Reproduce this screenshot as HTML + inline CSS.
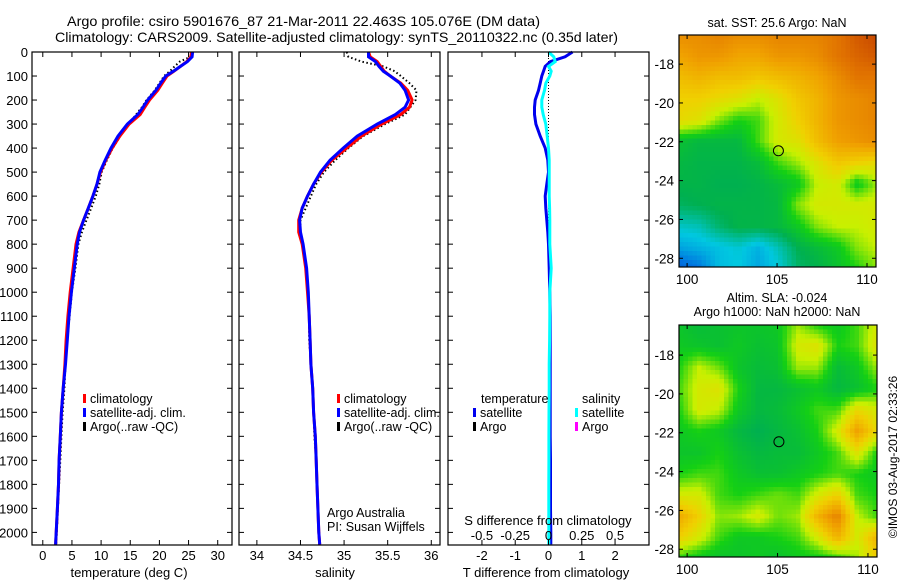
<!DOCTYPE html>
<html><head><meta charset="utf-8">
<style>
html,body{margin:0;padding:0;background:#fff;}
svg{display:block;font-family:"Liberation Sans",sans-serif;font-size:12px;}
</style></head>
<body>
<svg id="chart" width="900" height="580" viewBox="0 0 900 580" xmlns="http://www.w3.org/2000/svg">
<rect width="900" height="580" fill="#fff"/>
<text x="67" y="26" font-size="14" textLength="473" lengthAdjust="spacingAndGlyphs">Argo profile: csiro 5901676_87 21-Mar-2011 22.463S 105.076E (DM data)</text>
<text x="55" y="42" font-size="14" textLength="563" lengthAdjust="spacingAndGlyphs">Climatology: CARS2009. Satellite-adjusted climatology: synTS_20110322.nc (0.35d later)</text>
<text x="777" y="27" text-anchor="middle" font-size="12.5">sat. SST: 25.6 Argo: NaN</text>
<text x="777" y="302" text-anchor="middle" font-size="12.5">Altim. SLA: -0.024</text>
<text x="777" y="316" text-anchor="middle" font-size="12.5">Argo h1000: NaN h2000: NaN</text>
<text transform="translate(897,457) rotate(-90)" text-anchor="middle" font-size="12">©IMOS 03-Aug-2017 02:33:26</text>
<g id="layer"></g>
</svg>
<script>
// ---- profile data ----
const depths = [0,20,40,60,80,100,130,160,200,230,260,300,350,400,450,500,550,600,650,700,750,800,900,1000,1100,1200,1300,1400,1500,1600,1700,1800,1900,2000,2050];
const tempSat = [25.7,25.6,24.8,23.6,22.4,21.1,20.2,19.4,18.0,17.2,16.3,14.5,12.9,11.7,10.7,9.8,9.3,8.6,7.8,7.0,6.3,5.9,5.4,4.9,4.5,4.2,3.9,3.5,3.2,3.0,2.8,2.7,2.5,2.3,2.2];
const tempClim = [25.5,25.4,24.7,23.6,22.5,21.3,20.5,19.7,18.3,17.5,16.7,14.8,13.2,11.9,10.8,9.9,9.3,8.6,7.8,7.0,6.2,5.7,5.2,4.7,4.3,4.0,3.8,3.5,3.2,3.0,2.8,2.7,2.5,2.3,2.2];
const tempArgo = [25.6,25.3,23.5,22.6,21.8,20.8,20.0,19.2,17.8,17.0,16.0,14.7,13.3,12.0,11.0,10.1,9.7,9.1,8.3,7.5,6.7,6.1,5.6,5.0,4.6,4.2,3.9,3.7,3.4,3.2,3.0,2.8,2.6,2.4,2.3];
const salSat = [35.28,35.28,35.36,35.40,35.45,35.53,35.64,35.70,35.74,35.70,35.59,35.38,35.15,34.99,34.84,34.73,34.65,34.58,34.52,34.49,34.50,34.53,34.57,34.59,34.60,34.61,34.62,34.64,34.65,34.67,34.68,34.69,34.70,34.71,34.72];
const salClim = [35.28,35.30,35.38,35.42,35.46,35.53,35.65,35.73,35.78,35.75,35.65,35.43,35.20,35.03,34.86,34.74,34.65,34.58,34.52,34.48,34.48,34.52,34.56,34.58,34.60,34.61,34.62,34.64,34.65,34.67,34.68,34.69,34.70,34.71,34.72];
const salArgo = [35.03,35.05,35.20,35.45,35.58,35.65,35.75,35.83,35.82,35.76,35.70,35.47,35.22,35.05,34.90,34.77,34.68,34.62,34.56,34.50,34.50,34.53,34.57,34.59,34.60,34.60,34.62,34.64,34.65,34.66,34.68,34.69,34.70,34.71,34.72];
const tDiff = [0.72,0.50,0.06,-0.10,-0.15,-0.20,-0.25,-0.30,-0.40,-0.42,-0.42,-0.38,-0.25,-0.10,-0.02,0.00,-0.05,-0.10,-0.08,-0.05,-0.02,0.00,0.02,0.04,0.05,0.05,0.05,0.05,0.05,0.05,0.06,0.06,0.06,0.07,0.07];
const sDiff = [0.00,0.04,0.05,0.00,0.02,0.01,-0.02,-0.03,-0.05,-0.05,-0.04,-0.02,-0.01,0.00,0.005,0.005,0.005,0.005,0.008,0.01,0.01,0.01,0.02,0.01,0.01,0.008,0.005,0.005,0.004,0.003,0.003,0.002,0.002,0.002,0.002];
const depthTicks = [0,100,200,300,400,500,600,700,800,900,1000,1100,1200,1300,1400,1500,1600,1700,1800,1900,2000];
const tempTicks = [0,5,10,15,20,25,30];
const salTicks = [34,34.5,35,35.5,36];
const tdTicks = [-2,-1,0,1,2];
const sdTickLabels = ["-0.5","-0.25","0","0.25","0.5"];
const sdTicks = [-0.5,-0.25,0,0.25,0.5];
// ---- map data (rows top→bottom, cols lon 100..110) ----
const sstGrid = [
[.80,.80,.82,.80,.80,.82,.82,.82,.85,.90,.93],
[.75,.78,.78,.75,.75,.78,.78,.80,.85,.88,.90],
[.70,.72,.70,.70,.68,.70,.72,.75,.80,.85,.85],
[.66,.66,.64,.62,.58,.62,.68,.72,.78,.80,.82],
[.64,.62,.55,.50,.52,.60,.66,.72,.78,.80,.82],
[.46,.44,.44,.44,.52,.60,.62,.70,.76,.78,.80],
[.44,.43,.43,.43,.45,.52,.56,.62,.68,.66,.64],
[.43,.43,.42,.42,.43,.45,.48,.58,.60,.48,.56],
[.41,.42,.43,.43,.43,.44,.55,.60,.60,.60,.60],
[.34,.35,.40,.43,.43,.44,.48,.55,.58,.58,.60],
[.27,.29,.31,.33,.29,.35,.42,.45,.48,.55,.58],
[.16,.20,.30,.32,.27,.32,.40,.42,.46,.50,.55]];
const slaGrid = [
[.47,.45,.46,.47,.47,.48,.56,.50,.48,.52,.60],
[.48,.47,.46,.48,.46,.47,.60,.62,.50,.52,.62],
[.50,.58,.54,.47,.45,.46,.56,.56,.45,.48,.56],
[.52,.60,.62,.50,.44,.44,.46,.48,.44,.46,.50],
[.50,.60,.58,.48,.44,.45,.48,.52,.52,.64,.60],
[.48,.50,.48,.44,.42,.44,.46,.50,.60,.76,.64],
[.47,.47,.50,.46,.44,.45,.45,.48,.52,.62,.50],
[.50,.52,.52,.48,.46,.46,.48,.50,.52,.50,.48],
[.60,.60,.52,.50,.52,.54,.52,.60,.66,.52,.50],
[.74,.66,.55,.56,.60,.54,.56,.72,.82,.58,.52],
[.66,.60,.52,.48,.48,.50,.52,.60,.72,.60,.72],
[.50,.47,.46,.47,.48,.46,.48,.48,.50,.56,.66]];
const lonTicks = [100,105,110];
const latTicks = [-18,-20,-22,-24,-26,-28];
const argoLon = 105.076, argoLat = -22.463;

const NS = "http://www.w3.org/2000/svg";
const layer = document.getElementById('layer');
function mk(tag, attrs, parent){ const e=document.createElementNS(NS,tag); for(const k in attrs) e.setAttribute(k,attrs[k]); (parent||layer).appendChild(e); return e; }
function txt(x,y,s,anchor,parent,fs){ const e=mk('text',{x:x,y:y,'text-anchor':anchor||'middle'},parent); if(fs) e.setAttribute('font-size',fs); e.textContent=s; return e; }

const Y0=52, Y1=545;
const yD = d => 52 + d*0.2402;

function panel(name,x0,x1,vmin,vmax){
  const g=mk('g',{});
  
  
  const sx = v => x0 + (v - vmin)/(vmax - vmin)*(x1 - x0);
  return {g,sx};
}
function frame(g,x0,x1,sx,ticks,labels,withDepthLabels){
  const r=mk('rect',{x:x0,y:Y0,width:x1-x0,height:Y1-Y0,fill:'none',stroke:'#000','stroke-width':1.2},g);
  
  
  depthTicks.forEach(d=>{
    const y=yD(d);
    mk('line',{x1:x0,x2:x0+5,y1:y,y2:y,stroke:'#000'},g);
    mk('line',{x1:x1,x2:x1-5,y1:y,y2:y,stroke:'#000'},g);
    if(withDepthLabels){ const t=txt(x0-4,y+5,String(d),'end',g,13);   }
  });
  ticks.forEach((v,i)=>{
    const x=sx(v);
    mk('line',{x1:x,x2:x,y1:Y1,y2:Y1-5,stroke:'#000'},g);
    mk('line',{x1:x,x2:x,y1:Y0,y2:Y0+5,stroke:'#000'},g);
    const t=txt(x,560,labels[i],'middle',g,13);
    
    
  });
}
function line(g,xs,sx,color,w,dash,name){
  const pts=depths.map((d,i)=>sx(xs[i]).toFixed(1)+','+yD(d).toFixed(1)).join(' ');
  const p=mk('polyline',{points:pts,fill:'none',stroke:color,'stroke-width':w},g);
  if(dash) p.setAttribute('stroke-dasharray',dash);
  
  
}
function legendEntry(g,x,y,color,label){
  const e=mk('g',{},g);
  
  
  mk('rect',{x:x,y:y-9,width:3,height:9,fill:color},e);
  txt(x+7,y,label,'start',e,12.5);
}

// Panel 1: temperature
(function(){
  const x0=32,x1=232;
  const {g,sx}=panel('temperature-panel',x0,x1,-1.85,32.45);
  line(g,tempArgo,sx,'#000',2,'1.5 2.5','argo-temp-line');
  line(g,tempClim,sx,'#f00',3,null,'climatology-temp-line');
  line(g,tempSat,sx,'#00f',3,null,'satellite-temp-line');
  frame(g,x0,x1,sx,tempTicks,tempTicks.map(String),true);
  const t=txt(129,577,'temperature (deg C)','middle',g,13);  
  legendEntry(g,83,403,'#f00','climatology');
  legendEntry(g,83,417,'#00f','satellite-adj. clim.');
  legendEntry(g,83,431,'#000','Argo(..raw -QC)');
})();
// Panel 2: salinity
(function(){
  const x0=239,x1=440;
  const {g,sx}=panel('salinity-panel',x0,x1,33.795,36.1);
  line(g,salArgo,sx,'#000',2,'1.5 2.5','argo-sal-line');
  line(g,salClim,sx,'#f00',3,null,'climatology-sal-line');
  line(g,salSat,sx,'#00f',3,null,'satellite-sal-line');
  frame(g,x0,x1,sx,salTicks,salTicks.map(String),false);
  const t=txt(335,577,'salinity','middle',g,13);  
  legendEntry(g,337,403,'#f00','climatology');
  legendEntry(g,337,417,'#00f','satellite-adj. clim.');
  legendEntry(g,337,431,'#000','Argo(..raw -QC)');
  const a=txt(327,517,'Argo Australia','start',g,12.5);  
  const b=txt(327,531,'PI: Susan Wijffels','start',g,12.5);  
})();
// Panel 3: differences
(function(){
  const x0=448,x1=649;
  const {g,sx}=panel('difference-panel',x0,x1,-3.02,3.02);
  const dz=mk('line',{x1:sx(0),x2:sx(0),y1:yD(0),y2:yD(900),stroke:'#000','stroke-dasharray':'1 2'},g);
  
  
  line(g,tDiff,sx,'#0000ee',3,null,'temp-diff-line');
  line(g,sDiff.map(v=>v*4),sx,'#00ffff',3,null,'sal-diff-line');
  frame(g,x0,x1,sx,tdTicks,tdTicks.map(String),false);
  sdTicks.forEach((v,i)=>{ const t=txt(sx(v*4),540,sdTickLabels[i],'middle',g,13);   });
  const s=txt(548,525,'S difference from climatology','middle',g,13);  
  const t=txt(546,577,'T difference from climatology','middle',g,13);  
  txt(481,403,'temperature','start',g,12.5);
  legendEntry(g,473,417,'#0000ee','satellite');
  legendEntry(g,473,431,'#000','Argo');
  txt(582,403,'salinity','start',g,12.5);
  legendEntry(g,575,417,'#00ffff','satellite');
  legendEntry(g,575,431,'#ff00ff','Argo');
})();

// colormap
const cstops=[[0,[0,32,160]],[0.2,[0,112,224]],[0.32,[0,200,224]],[0.42,[0,176,80]],[0.5,[20,208,20]],[0.58,[200,240,0]],[0.66,[240,208,0]],[0.76,[240,160,0]],[0.86,[224,112,0]],[1,[176,32,0]]];
function cmap(v){
  v=Math.max(0,Math.min(1,v));
  for(let i=1;i<cstops.length;i++){ if(v<=cstops[i][0]){ const a=cstops[i-1],b=cstops[i],t=(v-a[0])/(b[0]-a[0]); return 'rgb('+a[1].map((c,k)=>Math.round(c+(b[1][k]-c)*t)).join(',')+')'; } }
  return 'rgb(176,32,0)';
}
function map(name,grid,x0,x1,y0,y1,latTop,latBot){
  const g=mk('g',{});
  
  
  const lonL=99.55, lonR=110.5;
  const sx=l=>x0+(l-lonL)/(lonR-lonL)*(x1-x0);
  const sy=l=>y0+(latTop-l)/(latTop-latBot)*(y1-y0);
  const R=grid.length, C=grid[0].length, cs=4.5;
  const nx=Math.ceil((x1-x0)/cs), ny=Math.ceil((y1-y0)/cs);
  for(let j=0;j<ny;j++) for(let i=0;i<nx;i++){
    const fx=(i+0.5)/nx*(C-1), fy=(j+0.5)/ny*(R-1);
    const ix=Math.min(C-2,Math.floor(fx)), iy=Math.min(R-2,Math.floor(fy)), tx=fx-ix, ty=fy-iy;
    const v=grid[iy][ix]*(1-tx)*(1-ty)+grid[iy][ix+1]*tx*(1-ty)+grid[iy+1][ix]*(1-tx)*ty+grid[iy+1][ix+1]*tx*ty;
    mk('rect',{x:(x0+i*cs).toFixed(1),y:(y0+j*cs).toFixed(1),width:Math.min(cs+0.3,x1-x0-i*cs),height:Math.min(cs+0.3,y1-y0-j*cs),fill:cmap(v)},g);
  }
  const f=mk('rect',{x:x0,y:y0,width:x1-x0,height:y1-y0,fill:'none',stroke:'#000','stroke-width':1.2},g);
  
  
  lonTicks.forEach(l=>{ const x=sx(l); mk('line',{x1:x,x2:x,y1:y1,y2:y1-4,stroke:'#000'},g); mk('line',{x1:x,x2:x,y1:y0,y2:y0+4,stroke:'#000'},g);
    const t=txt(x,y1+17,String(l),'middle',g,13.5);   });
  latTicks.forEach(l=>{ const y=sy(l); mk('line',{x1:x0,x2:x0+4,y1:y,y2:y,stroke:'#000'},g); mk('line',{x1:x1,x2:x1-4,y1:y,y2:y,stroke:'#000'},g);
    const t=txt(x0-5,y+5,String(l),'end',g,13.5);   });
  const c=mk('circle',{cx:sx(argoLon),cy:sy(argoLat),r:5,fill:'none',stroke:'#000','stroke-width':1},g);
  
  
}
map('sst-map',sstGrid,679,876,35,267,-16.5,-28.45);
map('sla-map',slaGrid,679,877,325,557,-16.45,-28.4);
</script>
</body></html>
